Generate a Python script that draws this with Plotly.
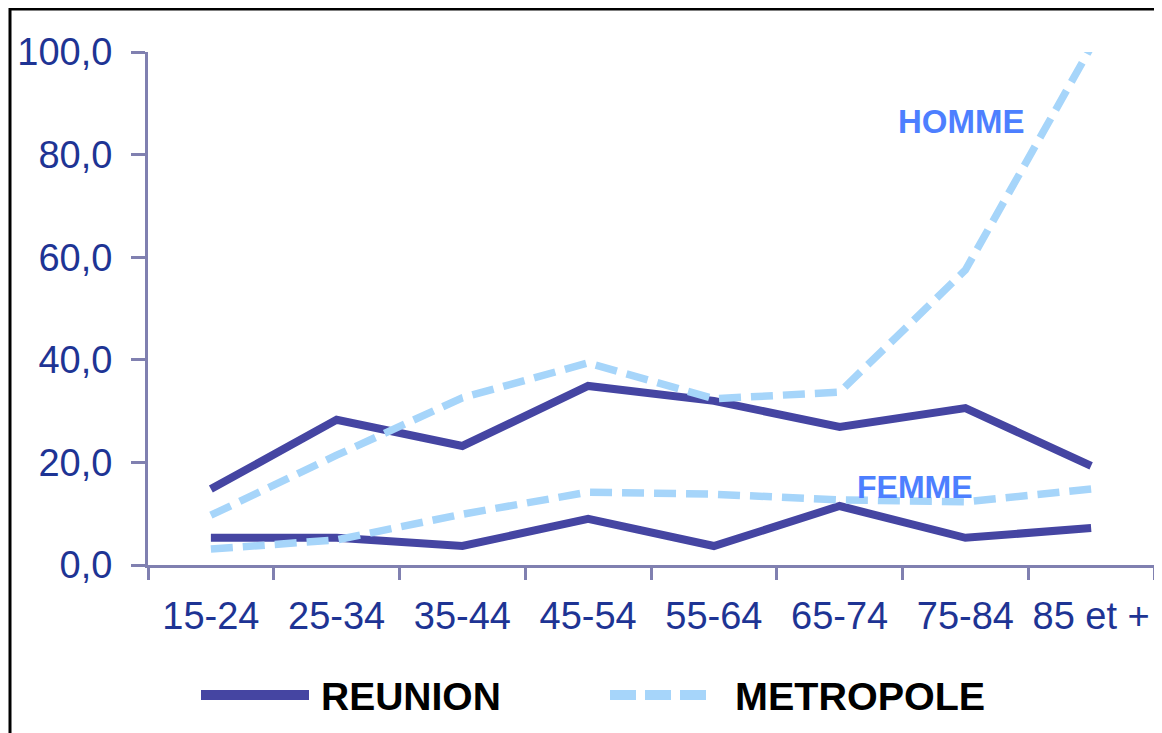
import plotly.graph_objects as go

categories = ["15-24", "25-34", "35-44", "45-54", "55-64", "65-74", "75-84", "85 et +"]
reunion_homme = [14.8, 28.3, 23.2, 34.9, 32.0, 26.9, 30.6, 19.3]
reunion_femme = [5.3, 5.3, 3.7, 9.0, 3.7, 11.5, 5.3, 7.2]
metropole_homme = [9.7, 21.4, 32.6, 39.4, 32.4, 33.7, 57.5, 101.0]
metropole_femme = [3.1, 4.9, 9.9, 14.2, 13.8, 12.7, 12.3, 14.8]
y_ticks = [0, 20, 40, 60, 80, 100]

NAVY = "#4545A2"
LIGHT = "#A6D5FA"
AXIS = "#8080B0"
TICKTXT = "#1E3494"
LABEL = "#4D7FFF"
FONT = "Liberation Sans, Arial, sans-serif"
DASH = "22px,10px"

fig = go.Figure()
for name, vals in [("REUNION", reunion_homme), ("REUNION", reunion_femme)]:
    fig.add_trace(go.Scatter(x=categories, y=vals, mode="lines", name=name,
                             line=dict(color=NAVY, width=8), showlegend=False))
for name, vals in [("METROPOLE", metropole_homme), ("METROPOLE", metropole_femme)]:
    fig.add_trace(go.Scatter(x=categories, y=vals, mode="lines", name=name,
                             line=dict(color=LIGHT, width=7.5, dash=DASH), showlegend=False))

OFF = 8  # page body margin
W, H = 1162 - OFF, 733 - OFF
L = 148 - OFF
T = 52 - OFF
plot_right = 1154 - OFF
plot_bottom = 565 - OFF
R = W - plot_right
B = H - plot_bottom
pw = plot_right - L
ph = plot_bottom - T

def px(xp):
    return (xp - OFF - L) / pw

def py(yp):
    return (plot_bottom - (yp - OFF)) / ph

shapes = [
    dict(type="rect", xref="paper", yref="paper", x0=px(10), x1=px(1180), y0=py(9), y1=py(760),
         line=dict(color="black", width=3), fillcolor="rgba(0,0,0,0)", layer="above"),
    dict(type="line", xref="paper", yref="paper", x0=px(201), x1=px(309), y0=py(695), y1=py(695),
         line=dict(color=NAVY, width=10)),
    dict(type="line", xref="paper", yref="paper", x0=px(610), x1=px(711), y0=py(695), y1=py(695),
         line=dict(color=LIGHT, width=10, dash="26px,9px")),
]

annotations = [
    dict(text="<b>HOMME</b>", x=5.97, y=86.5, xref="x", yref="y", showarrow=False,
         font=dict(family=FONT, size=33, color=LABEL)),
    dict(text="<b>FEMME</b>", x=5.6, y=15.3, xref="x", yref="y", showarrow=False,
         font=dict(family=FONT, size=32, color=LABEL)),
    dict(text="<b>REUNION</b>", x=px(319), y=py(696), xref="paper", yref="paper", showarrow=False,
         xanchor="left", yanchor="middle", font=dict(family=FONT, size=39, color="black")),
    dict(text="<b>METROPOLE</b>", x=px(733), y=py(696), xref="paper", yref="paper", showarrow=False,
         xanchor="left", yanchor="middle", font=dict(family=FONT, size=39.5, color="black")),
]

fig.update_layout(
    width=W, height=H,
    margin=dict(l=L, r=R, t=T, b=B, pad=0, autoexpand=False),
    paper_bgcolor="white", plot_bgcolor="white",
    separators=", ",
    shapes=shapes, annotations=annotations,
    showlegend=False,
    font=dict(family=FONT),
)
fig.update_xaxes(
    type="category", range=[-0.5, 7.5], tickson="boundaries",
    showline=True, linecolor=AXIS, linewidth=3,
    ticks="outside", ticklen=12, tickwidth=3, tickcolor=AXIS,
    showgrid=False, zeroline=False, tickangle=0, automargin=False,
    tickfont=dict(family=FONT, size=38, color=TICKTXT),
    ticklabelstandoff=15,
)
fig.update_yaxes(
    range=[0, 100], tickvals=y_ticks, tickformat=".1f",
    showline=True, linecolor=AXIS, linewidth=3,
    ticks="outside", ticklen=14, tickwidth=3, tickcolor=AXIS,
    showgrid=False, zeroline=False, automargin=False,
    tickfont=dict(family=FONT, size=38, color=TICKTXT),
    ticklabelstandoff=11,
)

fig.write_html("out.html")
